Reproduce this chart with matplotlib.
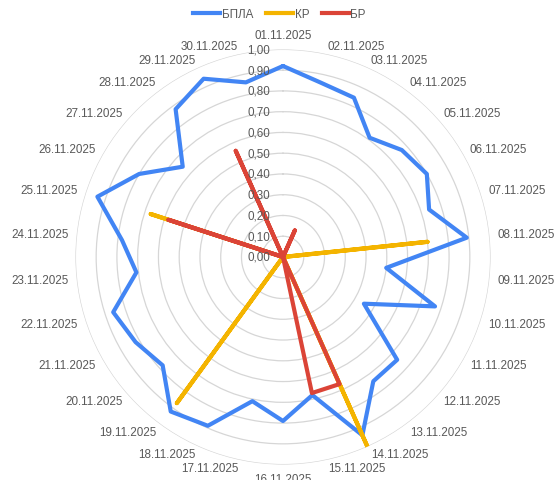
import numpy as np
import matplotlib.pyplot as plt
from matplotlib.transforms import offset_copy
from matplotlib.lines import Line2D

plt.rcParams['font.family'] = ['Liberation Sans', 'DejaVu Sans']

# Daily values, 01.11 .. 30.11
dates = ['01.11.2025', '02.11.2025', '03.11.2025', '04.11.2025', '05.11.2025',
         '06.11.2025', '07.11.2025', '08.11.2025', '09.11.2025', '10.11.2025',
         '11.11.2025', '12.11.2025', '13.11.2025', '14.11.2025', '15.11.2025',
         '16.11.2025', '17.11.2025', '18.11.2025', '19.11.2025', '20.11.2025',
         '21.11.2025', '22.11.2025', '23.11.2025', '24.11.2025', '25.11.2025',
         '26.11.2025', '27.11.2025', '28.11.2025', '29.11.2025', '30.11.2025']
bpla = [0.92, 0.86, 0.84, 0.71, 0.77, 0.80, 0.74, 0.89, 0.50, 0.77,
        0.45, 0.74, 0.74, 0.94, 0.68, 0.79, 0.71, 0.89, 0.92, 0.78,
        0.82, 0.86, 0.71, 0.78, 0.94, 0.80, 0.65, 0.88, 0.94, 0.86]
kr = [0, 0, 0, 0, 0, 0, 0, 0.70, 0, 0,
      0, 0, 0, 1.00, 0, 0, 0, 0, 0.87, 0,
      0, 0, 0, 0, 0.67, 0, 0, 0, 0, 0]
br = [0, 0, 0.14, 0, 0, 0, 0, 0, 0, 0,
      0, 0, 0, 0.67, 0.67, 0, 0, 0, 0, 0,
      0, 0, 0, 0, 0.58, 0, 0, 0, 0.56, 0]
rticks = [0.0, 0.1, 0.2, 0.3, 0.4, 0.5, 0.6, 0.7, 0.8, 0.9, 1.0]

series = [('БПЛА', bpla, '#4285f4'), ('КР', kr, '#f4b400'), ('БР', br, '#db4437')]
text_color = '#595959'

W, H = 559, 481
fig = plt.figure(figsize=(W / 100, H / 100), dpi=100)
cx, cy, rad = 283, 481 - 258, 207.6
ax = fig.add_axes([(cx - rad) / W, (cy - rad) / H, 2 * rad / W, 2 * rad / H], polar=True)
ax.set_theta_zero_location('N')
ax.set_theta_direction(-1)

n = len(dates)
theta = np.arange(n) * 2 * np.pi / n
theta_closed = np.append(theta, theta[0])

for name, vals, col in series:
    v = np.append(vals, vals[0])
    ax.plot(theta_closed, v, color=col, lw=3, solid_joinstyle='round',
            solid_capstyle='round', label=name)

ax.set_ylim(0, 1.0)
ax.set_yticks(rticks[1:])
ax.set_yticklabels([])
ax.set_xticks([])
ax.yaxis.grid(True, color='#d6d6d6', lw=0.9)
ax.xaxis.grid(False)
ax.spines['polar'].set_visible(False)
ax.set_facecolor('none')

# radial scale labels along the top axis
off = offset_copy(ax.transData, fig=fig, x=-13, y=0, units='dots')
for r in rticks:
    ax.text(0, r, f'{r:.2f}'.replace('.', ','), transform=off, ha='right',
            va='center', fontsize=8.4, color=text_color)

# date labels around the circle
for t, lab in zip(theta, dates):
    s, c = np.sin(t), np.cos(t)
    if abs(s) < 0.05:
        ha, va = 'center', ('bottom' if c > 0 else 'top')
    else:
        ha, va = ('left' if s > 0 else 'right'), 'center'
    ax.text(t, 1.04, lab, ha=ha, va=va, fontsize=8.4, color=text_color,
            clip_on=False)

handles = [Line2D([], [], color=col, lw=3) for _, _, col in series]
fig.legend(handles, [s[0] for s in series], loc='center', bbox_to_anchor=(0.5, 1 - 15 / H),
           ncol=3, frameon=False, fontsize=8.4, handlelength=2.3, handletextpad=0.15,
           columnspacing=1.1, labelcolor=text_color)

fig.savefig('out.png', dpi=100)
